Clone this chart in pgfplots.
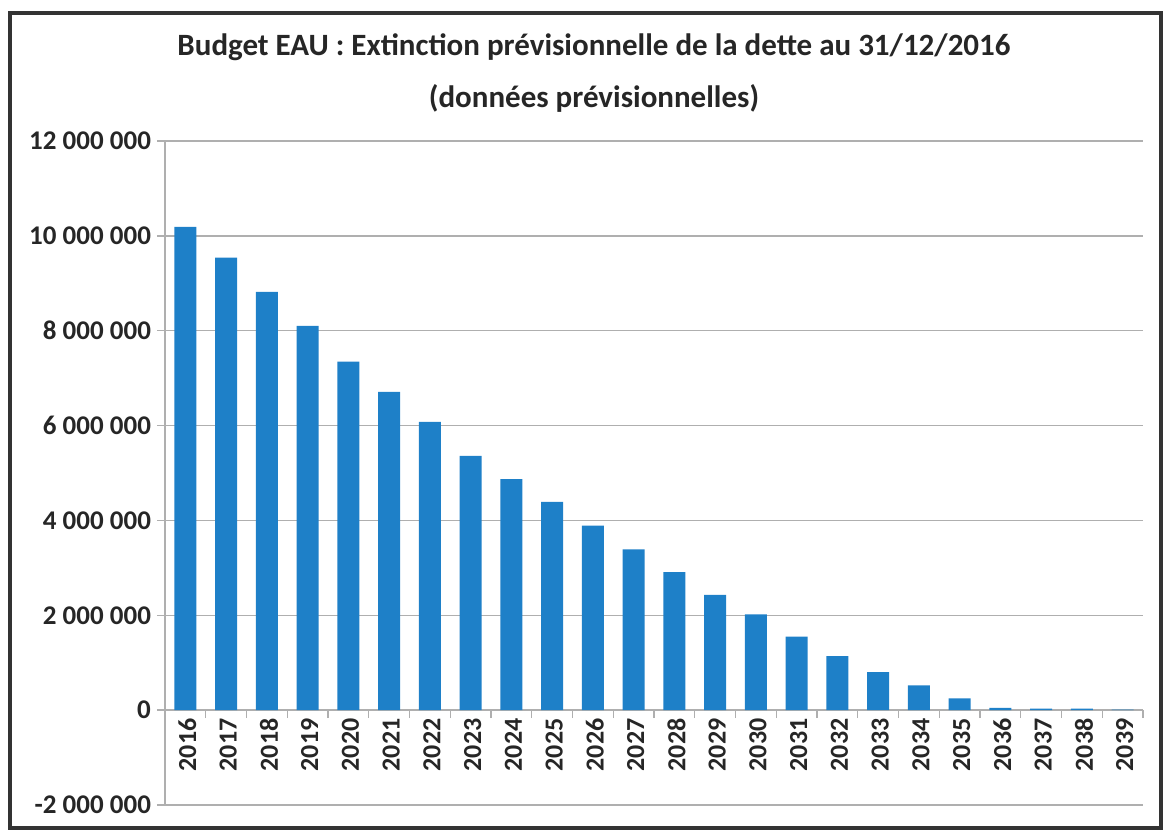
\documentclass[border=0pt]{standalone}
\usepackage{fontspec}
\setmainfont{Carlito}
\usepackage{pgfplots}
\pgfplotsset{compat=1.18}
\definecolor{barblue}{RGB}{30,128,200}
\definecolor{gridgray}{RGB}{175,175,175}
\begin{document}
\begin{tikzpicture}
\useasboundingbox (-82.5pt,-13pt) rectangle (500.5pt,402.5pt);
\draw[line width=1.6pt, black!80] (-77.5pt,-11.5pt) rectangle (498pt,396pt);
\node[font=\fontsize{15.5}{26}\selectfont\bfseries, align=center, text=black!85] at (214.5pt,366pt)
  {Budget EAU : Extinction prévisionnelle de la dette au 31/12/2016\\(données prévisionnelles)};
\begin{axis}[
  at={(0pt,0pt)}, anchor=south west,
  scale only axis, width=489pt, height=332pt,
  xmin=-0.5, xmax=23.5,
  ymin=-2000000, ymax=12000000,
  enlargelimits=false,
  scaled y ticks=false,
  axis x line*=middle,
  axis y line*=left,
  axis line style={gridgray, line width=0.75pt},
  ybar, bar width=11pt,
  xtick={0,...,23},
  xticklabels={2016,2017,2018,2019,2020,2021,2022,2023,2024,2025,2026,2027,2028,2029,2030,2031,2032,2033,2034,2035,2036,2037,2038,2039},
  minor xtick={-0.5,0.5,...,23.5},
  x tick style={draw=none},
  minor x tick style={draw=gridgray, line width=0.6pt},
  minor tick length=4pt,
  xticklabel style={rotate=90, anchor=east, font=\fontsize{13}{14}\selectfont\bfseries, text=black!85, inner sep=0pt, yshift=-1pt},
  ytick={-2000000,0,2000000,4000000,6000000,8000000,10000000,12000000},
  yticklabels={-2 000 000,0,2 000 000,4 000 000,6 000 000,8 000 000,10 000 000,12 000 000},
  yticklabel style={font=\fontsize{13.5}{14}\selectfont\bfseries, text=black!85, xshift=0.5pt},
  y tick style={draw=gridgray, line width=0.75pt},
  ytick align=outside,
  major tick length=4pt,
  ymajorgrids,
  grid style={gridgray, line width=0.75pt},
  clip=false,
]
\addplot[fill=barblue, draw=none] coordinates {
(0,10190000) (1,9540000) (2,8820000) (3,8100000) (4,7350000) (5,6710000)
(6,6080000) (7,5360000) (8,4870000) (9,4390000) (10,3890000) (11,3390000)
(12,2910000) (13,2430000) (14,2020000) (15,1550000) (16,1140000) (17,800000)
(18,520000) (19,250000) (20,50000) (21,30000) (22,30000) (23,10000)};
\end{axis}
\end{tikzpicture}
\end{document}
